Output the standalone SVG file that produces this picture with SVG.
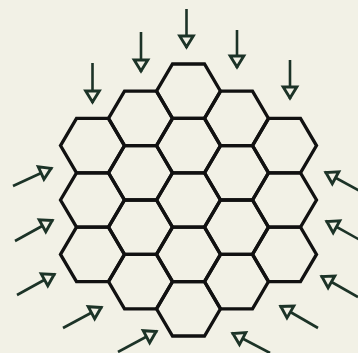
<svg xmlns="http://www.w3.org/2000/svg" width="358" height="353" viewBox="0 0 358 353">
<defs>
<style>
.cell{fill:none;stroke:#111;stroke-width:3.3;stroke-linejoin:miter}
.arr{stroke:#1c3327;stroke-width:2.6;fill:none;marker-end:url(#head)}
</style>
<polygon id="hex" points="-32,0 -16,-27.2 16,-27.2 32,0 16,27.2 -16,27.2"/>
<marker id="head" markerUnits="userSpaceOnUse" viewBox="-15 -10 18 20" markerWidth="18" markerHeight="20" refX="0" refY="0" orient="auto">
<path d="M-1,0 L-12,-6.8 L-12,6.8 Z" fill="#f2f1e6" stroke="#1c3327" stroke-width="2.9" stroke-linejoin="miter"/>
</marker>
</defs>
<rect width="358" height="353" fill="#f2f1e6"/>
<g id="cells">
<g id="c-2-0"><use href="#hex" class="cell" x="92.5" y="145.6"/></g>
<g id="c-2-1"><use href="#hex" class="cell" x="92.5" y="200"/></g>
<g id="c-2-2"><use href="#hex" class="cell" x="92.5" y="254.4"/></g>
<g id="c-1-0"><use href="#hex" class="cell" x="140.5" y="118.4"/></g>
<g id="c-1-1"><use href="#hex" class="cell" x="140.5" y="172.8"/></g>
<g id="c-1-2"><use href="#hex" class="cell" x="140.5" y="227.2"/></g>
<g id="c-1-3"><use href="#hex" class="cell" x="140.5" y="281.6"/></g>
<g id="c0-0"><use href="#hex" class="cell" x="188.5" y="91.2"/></g>
<g id="c0-1"><use href="#hex" class="cell" x="188.5" y="145.6"/></g>
<g id="c0-2"><use href="#hex" class="cell" x="188.5" y="200"/></g>
<g id="c0-3"><use href="#hex" class="cell" x="188.5" y="254.4"/></g>
<g id="c0-4"><use href="#hex" class="cell" x="188.5" y="308.8"/></g>
<g id="c1-0"><use href="#hex" class="cell" x="236.5" y="118.4"/></g>
<g id="c1-1"><use href="#hex" class="cell" x="236.5" y="172.8"/></g>
<g id="c1-2"><use href="#hex" class="cell" x="236.5" y="227.2"/></g>
<g id="c1-3"><use href="#hex" class="cell" x="236.5" y="281.6"/></g>
<g id="c2-0"><use href="#hex" class="cell" x="284.5" y="145.6"/></g>
<g id="c2-1"><use href="#hex" class="cell" x="284.5" y="200"/></g>
<g id="c2-2"><use href="#hex" class="cell" x="284.5" y="254.4"/></g>
</g>
<g id="connectors">
<line class="arr" x1="92.5" y1="63" x2="92.5" y2="103"/>
<line class="arr" x1="141" y1="32" x2="141" y2="72"/>
<line class="arr" x1="186.5" y1="9" x2="186.5" y2="48"/>
<line class="arr" x1="237" y1="30" x2="237" y2="68"/>
<line class="arr" x1="290" y1="60" x2="290" y2="99"/>
<line class="arr" x1="13" y1="186" x2="52" y2="168"/>
<line class="arr" x1="15" y1="241" x2="53" y2="220"/>
<line class="arr" x1="17" y1="295" x2="55" y2="274"/>
<line class="arr" x1="63" y1="328" x2="102" y2="307"/>
<line class="arr" x1="118" y1="352" x2="157" y2="331"/>
<line class="arr" x1="360" y1="191" x2="325" y2="172"/>
<line class="arr" x1="360" y1="240" x2="326" y2="221"/>
<line class="arr" x1="358" y1="297" x2="321" y2="276"/>
<line class="arr" x1="318" y1="328" x2="280" y2="306"/>
<line class="arr" x1="270" y1="353" x2="232" y2="333"/>
</g>
</svg>
